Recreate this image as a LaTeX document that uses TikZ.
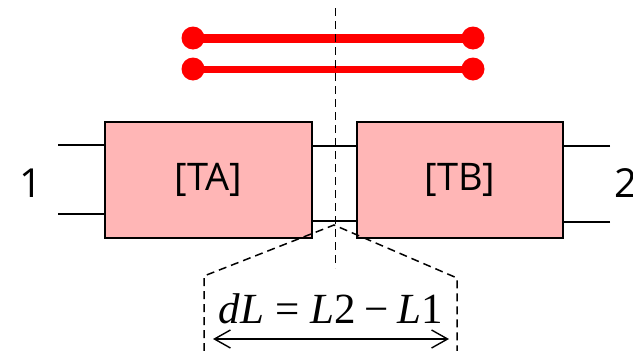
\documentclass[tikz,border=0pt]{standalone}
\usepackage{fontspec}
\setmainfont{Open Sans}
\newfontfamily\formulafont{Liberation Serif}
\usetikzlibrary{arrows.meta}
\definecolor{boxpink}{HTML}{FFB6B6}
\definecolor{wirered}{HTML}{FF0000}
\tikzset{
  block/.style={draw=black, line width=1.4pt, fill=boxpink, minimum width=207pt, minimum height=116pt, inner sep=0pt, font=\fontsize{38}{40}\selectfont},
  lead/.style={line width=1.4pt},
  guide/.style={line width=1.5pt, dash pattern=on 8pt off 5pt},
  redwire/.style={wirered, line width=#1},
  terminal/.style={circle, fill=wirered, minimum size=23pt, inner sep=0pt},
  portlabel/.style={font=\fontsize{40}{42}\selectfont, inner sep=0pt},
}
\begin{document}
\begin{tikzpicture}[x=1pt, y=-1pt]
  \useasboundingbox (0,0) rectangle (633,351);
  \clip (0,0) rectangle (633,351);

  % red line pair
  \node[terminal] (r1a) at (193,38) {};
  \node[terminal] (r1b) at (473,38) {};
  \node[terminal] (r2a) at (193,69) {};
  \node[terminal] (r2b) at (473,69) {};
  \draw[redwire=9pt] (r1a.center) -- (r1b.center);
  \draw[redwire=7pt] (r2a.center) -- (r2b.center);

  % the two blocks
  \node[block] (ta) at (208.5,180) {[TA]};
  \node[block, minimum width=206pt] (tb) at (460,180) {[TB]};

  % port leads
  \coordinate (l1) at (58,145);
  \coordinate (l2) at (58,214);
  \coordinate (r1) at (610,146);
  \coordinate (r2) at (610,222);
  \draw[lead] (l1) -- (l1 -| ta.west);
  \draw[lead] (l2) -- (l2 -| ta.west);
  \draw[lead] (r1) -- (r1 -| tb.east);
  \draw[lead] (r2) -- (r2 -| tb.east);
  \coordinate (m1) at (312,146);
  \coordinate (m2) at (312,221);
  \draw[lead] (m1 -| ta.east) -- (m1 -| tb.west);
  \draw[lead] (m2 -| ta.east) -- (m2 -| tb.west);

  % port labels
  \node[portlabel] (p1) at (31,183) {1};
  \node[portlabel] (p2) at (626,183) {2};

  % symmetry line and length guides
  \coordinate (ctop) at (335.5,8);
  \coordinate (cbot) at (335.5,268);
  \draw[guide] (ctop) -- (cbot);
  \coordinate (apex) at (334,225);
  \coordinate (gl) at (204,276);
  \coordinate (gr) at (457,278);
  \coordinate (glb) at (204,351);
  \coordinate (grb) at (457,351);
  \draw[guide] (glb) -- (gl) -- (apex) -- (gr) -- (grb);

  % length difference
  \coordinate (al) at (213,339);
  \coordinate (ar) at (449,339);
  \draw[line width=1.4pt, {Straight Barb[length=16pt,width=18pt]}-{Straight Barb[length=16pt,width=18pt]}] (al) -- (ar);
  \node[inner sep=0pt, anchor=base, font=\formulafont\fontsize{43}{45}\selectfont] (dl) at (331,323)
    {\textit{dL}\hspace{0.26em}=\hspace{0.26em}\textit{L}2\hspace{0.2em}−\hspace{0.2em}\textit{L}1};
\end{tikzpicture}
\end{document}
